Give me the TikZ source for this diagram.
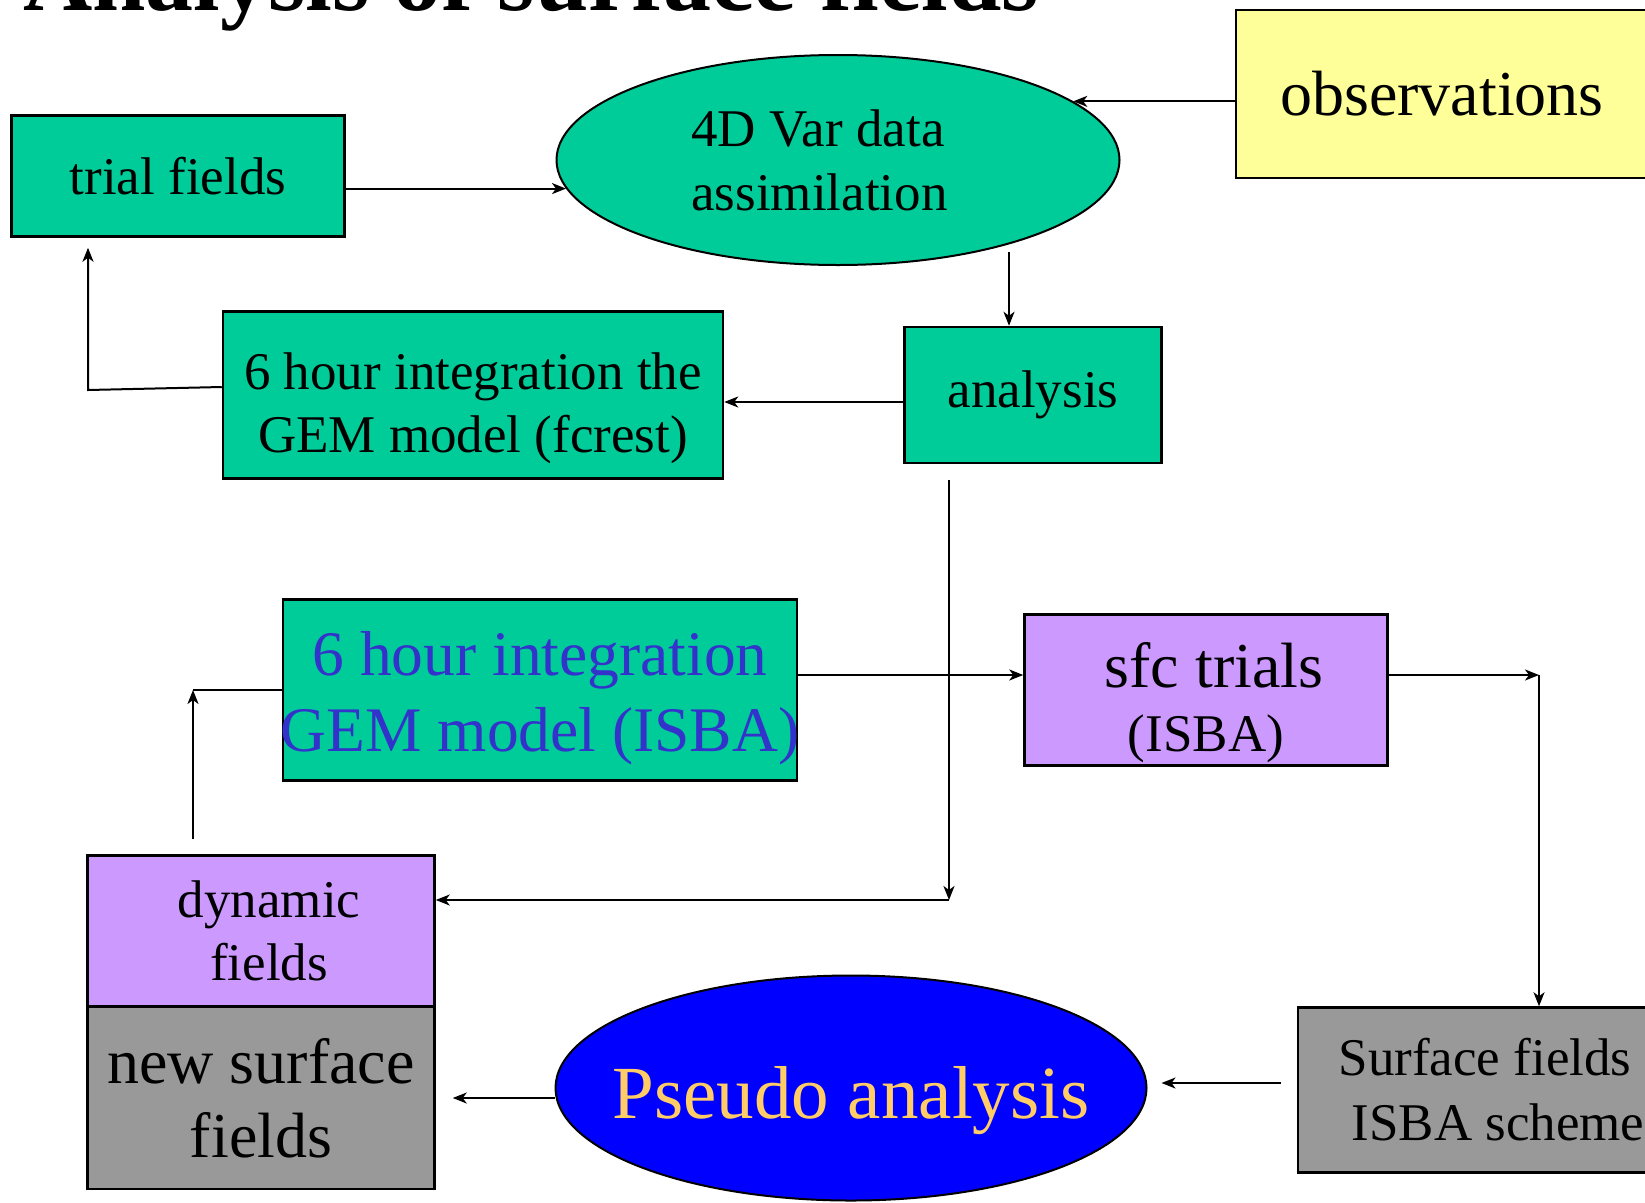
\documentclass[tikz,border=0pt]{standalone}
\usepackage{fontspec}
\setmainfont{Liberation Serif}
\usetikzlibrary{shapes.geometric}
\usetikzlibrary{arrows.meta}
\definecolor{boxgreen}{HTML}{00CC99}
\definecolor{boxyellow}{HTML}{FFFF99}
\definecolor{boxpurple}{HTML}{CC99FF}
\definecolor{boxgray}{HTML}{999999}
\definecolor{isbablue}{HTML}{3333CC}
\definecolor{pseudotext}{HTML}{FFCC66}

\begin{document}
\begin{tikzpicture}[x=1pt,y=-1pt,>={Stealth[length=14pt,width=11pt,inset=4pt]},
		box/.style={draw,line width=2.5pt,rectangle,inner sep=2pt,align=center},
		oval/.style={draw,line width=2pt,ellipse,inner sep=0pt,align=center},
		link/.style={line width=2pt,black}]
		\useasboundingbox (0,0) rectangle (1645,1202);
		\clip (0,0) rectangle (1645,1202);
		\path (23,10.5) node(title)[anchor=base west,inner sep=0pt,font=\fontsize{96}{100}\selectfont\bfseries] {Analysis of surface fields};
		\path (178,176) node(trial)[box,fill=boxgreen,minimum width=333pt,minimum height=121pt,font=\fontsize{53}{64}\selectfont] {trial fields}
		(838,160) node(vardata)[oval,align=left,fill=boxgreen,minimum width=563pt,minimum height=210pt,font=\fontsize{53}{64}\selectfont] {4D Var data\hspace*{40pt}\\assimilation}
		(1442,94) node(obs)[box,fill=boxyellow,minimum width=412pt,minimum height=168pt,font=\fontsize{64}{74}\selectfont] {observations}
		(1033,395) node(analysis)[box,fill=boxgreen,minimum width=257pt,minimum height=136pt,font=\fontsize{53}{63}\selectfont] {analysis}
		(473,395) node(fcrest)[box,fill=boxgreen,minimum width=500pt,minimum height=167pt,font=\fontsize{53}{63}\selectfont] {\rule{0pt}{63pt}6 hour integration the\\GEM model (fcrest)}
		(540,690) node(isba)[box,fill=boxgreen,inner xsep=-2.5pt,minimum width=514pt,minimum height=181pt,text=isbablue,font=\fontsize{63.5}{76}\selectfont] {\rule{0pt}{60pt}6 hour integration\\GEM model (ISBA)}
		(1206,690) node(sfc)[box,fill=boxpurple,minimum width=363pt,minimum height=151pt,font=\fontsize{53}{64}\selectfont] {{\fontsize{64}{64}\selectfont\rule{0pt}{70pt}\hspace*{16pt}sfc trials}\\(ISBA)}
		(261,931) node(dynamic)[box,fill=boxpurple,minimum width=347pt,minimum height=151pt,font=\fontsize{53}{63}\selectfont] {\hspace*{16pt}dynamic\\\hspace*{16pt}fields}
		(261,1098) node(newsurf)[box,fill=boxgray,minimum width=347pt,minimum height=182pt,font=\fontsize{64}{74}\selectfont] {new surface\\fields}
		(851,1088) node(pseudo)[oval,fill=blue,inner xsep=-50pt,text height=78pt,minimum width=591pt,minimum height=225pt,text=pseudotext,font=\fontsize{75}{85}\selectfont] {Pseudo analysis}
		(1485,1090) node(surface)[box,fill=boxgray,minimum width=374pt,minimum height=165pt,font=\fontsize{53}{65}\selectfont] {Surface fields\\\hspace*{26pt}ISBA scheme};
		% upper loop
		\draw[link,->] (trial.east |- vardata.186.6) -- (vardata.186.6);
		\draw[link,->] (obs.west |- vardata.14.6) -- (vardata.14.6);
		\draw[link,->] ([xshift=-24pt]analysis.north |- 0,252) -- ([xshift=-24pt]analysis.north);
		\draw[link,->] ([yshift=-7pt]analysis.west) -- ([yshift=-7pt]analysis.west -| fcrest.east);
		\coordinate (bend) at (88,390);
		\draw[link,->] ([yshift=8pt]fcrest.west) -- (bend) -- ([yshift=-10pt]trial.south -| bend);
		% lower loop
		\coordinate (drop) at (949,900);
		\draw[link,->] ([yshift=-16pt]analysis.south -| drop) -- (drop);
		\draw[link,->] (drop) -- (drop -| dynamic.east);
		\coordinate (rise) at (193,690);
		\draw[link,->] ([yshift=15pt]dynamic.north -| rise) -- (rise);
		\draw[link] (rise) -- (isba.west);
		\draw[link,->] ([yshift=15pt]isba.east) -- ([yshift=15pt]isba.east -| sfc.west);
		\coordinate (turn) at (1539,675);
		\draw[link,->] (sfc.east |- turn) -- (turn);
		\draw[link,->] (turn) -- (turn |- surface.north);
		\draw[link,->] ([xshift=-16pt,yshift=7pt]surface.west) -- ([xshift=14pt,yshift=5pt]pseudo.east);
		\draw[link,->] ([yshift=-10pt]pseudo.west) -- ([xshift=17pt]newsurf.east);
	\end{tikzpicture}
\end{document}
